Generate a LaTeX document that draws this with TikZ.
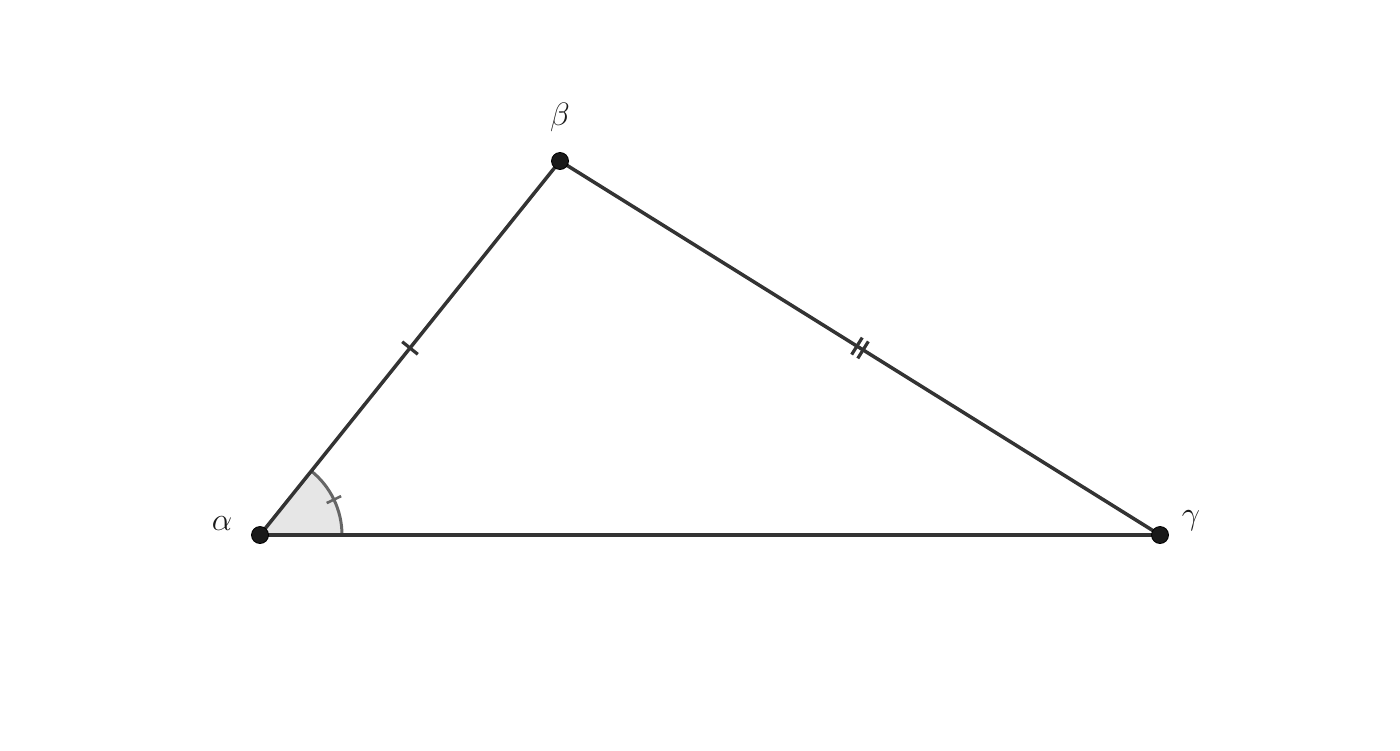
\documentclass[tikz,border=0pt]{standalone}
\usetikzlibrary{calc}
\definecolor{edge}{HTML}{333333}
\definecolor{pt}{HTML}{1A1A1A}
\definecolor{angfill}{HTML}{E6E6E6}
\definecolor{angline}{HTML}{666666}
\begin{document}
\begin{tikzpicture}[x=1pt,y=-1pt,
  side/.style={draw=edge,line width=3.5pt,line cap=round},
  tick/.style={draw=edge,line width=3.2pt},
  vertex/.style={circle,fill=pt,draw=black,line width=0.8pt,inner sep=0pt,minimum size=17pt},
  lab/.style={font=\Huge,text=pt,scale=1.3}]
\useasboundingbox (0,0) rectangle (1400,750);
\coordinate (A) at (260,535);
\coordinate (B) at (560,161);
\coordinate (C) at (1160,535);
% angle
\fill[angfill] (A) -- ++(0:82) arc[start angle=0,end angle=-51.26,radius=82] -- cycle;
\draw[angline,line width=3pt] ($(A)+(0:82)$) arc[start angle=0,end angle=-51.26,radius=82];
\draw[angline,line width=2.6pt] ($(A)+(-25.6:74)$) -- ($(A)+(-25.6:90)$);
% sides
\draw[side] (A) -- (B);
\draw[side] (B) -- (C);
\draw[side] (A) -- (C);
% ticks
\coordinate (M1) at ($(A)!0.5!(B)$);
\draw[tick] ($(M1)!10pt!90:(B)$) -- ($(M1)!10pt!-90:(B)$);
\coordinate (M2) at ($(B)!0.5!(C)$);
\coordinate (M2a) at ($(M2)!3.6pt!(B)$);
\coordinate (M2b) at ($(M2)!3.6pt!(C)$);
\draw[tick] ($(M2a)!10pt!90:(B)$) -- ($(M2a)!10pt!-90:(B)$);
\draw[tick] ($(M2b)!10pt!90:(C)$) -- ($(M2b)!10pt!-90:(C)$);
% vertices
\node[vertex] (a) at (A) {};
\node[vertex] (b) at (B) {};
\node[vertex] (c) at (C) {};
\node[lab] (la) at (222,524) {$\alpha$};
\node[lab] (lb) at (560,117) {$\beta$};
\node[lab] (lc) at (1191,521) {$\gamma$};
\end{tikzpicture}
\end{document}
